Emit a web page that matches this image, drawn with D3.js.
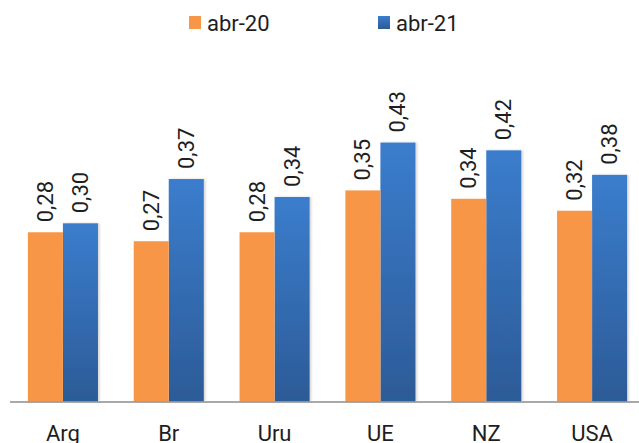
<!DOCTYPE html>
<html lang="es">
<head>
    <meta charset="UTF-8">
    <title>abr-20 vs abr-21</title>
    <script src="https://d3js.org/d3.v7.min.js"></script>
    <style>
        body { margin: 0; background: #fff; }
        text { font-family: Roboto, "Noto Sans", sans-serif; fill: #1e1e1e; }
        .axis-line { stroke: #8c8c8c; stroke-width: 1.5px; }
    </style>
</head>
<body>
<script>

    // Data
    var categories = ["Arg", "Br", "Uru", "UE", "NZ", "USA"];
    var seriesNames = ["abr-20", "abr-21"];
    var abr20 = [0.283, 0.268, 0.283, 0.353, 0.339, 0.319];
    var abr21 = [0.298, 0.372, 0.342, 0.433, 0.420, 0.379];

    var width = 639, height = 443;

    var svg = d3.select("body")
        .append("svg")
        .attr("width", width)
        .attr("height", height);

    // Gradient for the blue bars (light on top, dark at the bottom)
    var defs = svg.append("defs");
    var grad = defs.append("linearGradient")
        .attr("id", "blueGrad")
        .attr("x1", 0).attr("y1", 0)
        .attr("x2", 0).attr("y2", 1);
    grad.append("stop").attr("offset", "0%").attr("stop-color", "#3b7dcd");
    grad.append("stop").attr("offset", "100%").attr("stop-color", "#2c5b97");

    var shadow = defs.append("filter").attr("id", "shadow")
        .attr("x", "-10%").attr("y", "-5%").attr("width", "130%").attr("height", "110%");
    shadow.append("feDropShadow")
        .attr("dx", 1.5).attr("dy", 0).attr("stdDeviation", 1)
        .attr("flood-color", "#000").attr("flood-opacity", 0.18);

    // Scales
    var x0 = d3.scaleBand()
        .domain(categories)
        .range([10, 645]);

    var x1 = d3.scaleBand()
        .domain(seriesNames)
        .range([0, x0.bandwidth()])
        .paddingOuter(0.51);

    var y = d3.scaleLinear()
        .domain([0, 0.5])
        .range([401.5, 102.5]);

    var colors = { "abr-20": "#f79646", "abr-21": "url(#blueGrad)" };

    var rows = categories.map(function(c, i) {
        return { cat: c, values: [
            { key: "abr-20", value: abr20[i] },
            { key: "abr-21", value: abr21[i] }
        ]};
    });

    var fmt = function(v) { return d3.format(".2f")(v).replace(".", ","); };

    var groups = svg.selectAll(".group")
        .data(rows)
        .enter().append("g")
        .attr("class", "group")
        .attr("transform", function(d) { return "translate(" + x0(d.cat) + ",0)"; });

    // Blue bars first so the orange sits cleanly beside them
    groups.selectAll("rect")
        .data(function(d) { return d.values.slice().reverse(); })
        .enter().append("rect")
        .attr("x", function(d) { return x1(d.key); })
        .attr("y", function(d) { return y(d.value); })
        .attr("width", x1.bandwidth())
        .attr("height", function(d) { return y(0) - y(d.value); })
        .attr("fill", function(d) { return colors[d.key]; })
        .attr("filter", function(d) { return d.key === "abr-21" ? "url(#shadow)" : null; });

    // Value labels, rotated
    groups.selectAll(".val")
        .data(function(d) { return d.values; })
        .enter().append("text")
        .attr("class", "val")
        .attr("transform", function(d) {
            return "translate(" + (x1(d.key) + x1.bandwidth() / 2) + "," + (y(d.value) - 10) + ") rotate(-90)";
        })
        .attr("text-anchor", "start")
        .attr("dominant-baseline", "central")
        .style("font-size", "22px")
        .text(function(d) { return fmt(d.value); });

    // X axis: line only, labels below
    svg.append("line")
        .attr("class", "axis-line")
        .attr("x1", 10).attr("x2", width)
        .attr("y1", y(0) + 0.5).attr("y2", y(0) + 0.5);

    svg.selectAll(".cat")
        .data(categories)
        .enter().append("text")
        .attr("class", "cat")
        .attr("x", function(d) { return x0(d) + x0.bandwidth() / 2; })
        .attr("y", 441)
        .attr("text-anchor", "middle")
        .style("font-size", "22px")
        .text(function(d) { return d; });

    // Legend
    var legendX = [189, 378];
    var legend = svg.selectAll(".legend")
        .data(seriesNames)
        .enter().append("g")
        .attr("class", "legend")
        .attr("transform", function(d, i) { return "translate(" + legendX[i] + ",0)"; });

    legend.append("rect")
        .attr("x", 0).attr("y", 16)
        .attr("width", 12).attr("height", 13)
        .attr("fill", function(d) { return colors[d]; });

    legend.append("text")
        .attr("x", 18).attr("y", 31)
        .style("font-size", "22px")
        .text(function(d) { return d; });

</script>
</body>
</html>
